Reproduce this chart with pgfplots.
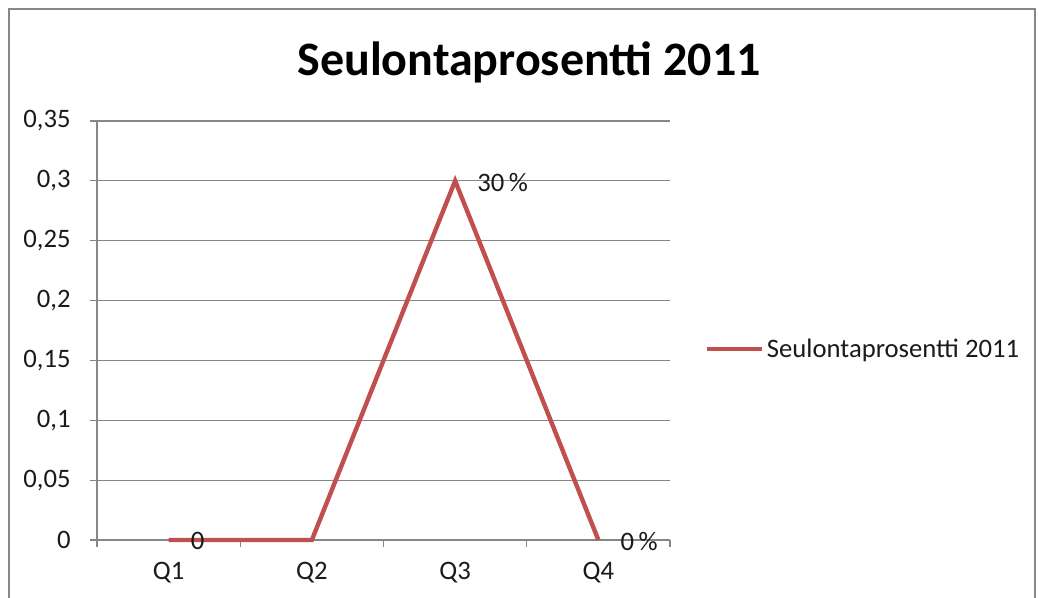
\documentclass[border=0pt]{standalone}
\usepackage{pgfplots}
\pgfplotsset{compat=1.18}
\usepackage{fontspec}
\setmainfont{Carlito}
\definecolor{exred}{HTML}{C0504D}
\definecolor{gridg}{HTML}{868686}
\definecolor{txt}{HTML}{1A1A1A}
\begin{document}
\begin{tikzpicture}[x=0.75pt,y=0.75pt]
\useasboundingbox (0,0) rectangle (1039,598);
\draw[gridg,line width=1.2pt] (9,-10) -- (9,589) -- (1035,589) -- (1035,-10);
\node[font=\fontsize{36}{40}\selectfont\bfseries,text=black] at (529,536) {Seulontaprosentti 2011};
\begin{axis}[
  at={(72.75pt,43.5pt)}, anchor=south west,
  scale only axis, width=429.75pt, height=314.25pt,
  xmin=0.5, xmax=4.5, ymin=0, ymax=0.35,
  axis lines*=left,
  axis line style={gridg, line width=0.8pt},
  xtick={0.5,1.5,2.5,3.5,4.5}, xticklabels={},
  extra x ticks={1,2,3,4}, extra x tick labels={Q1,Q2,Q3,Q4},
  extra x tick style={major tick length=0pt, xticklabel style={yshift=-13pt}},
  ytick={0,0.05,0.1,0.15,0.2,0.25,0.3,0.35},
  yticklabels={0,{0,05},{0,1},{0,15},{0,2},{0,25},{0,3},{0,35}},
  yticklabel style={xshift=-11pt},
  tick align=outside, major tick length=5.25pt,
  tick style={gridg, line width=0.8pt},
  ymajorgrids, grid style={gridg, line width=0.8pt},
  tick label style={font=\fontsize{20}{22}\selectfont, text=txt},
  legend style={at={(1.061,0.456)}, anchor=west, draw=none, fill=none,
    font=\fontsize{20}{22}\selectfont, text=txt, inner sep=0pt},
  legend image code/.code={\draw[exred, line width=3.3pt] (0pt,0pt) -- (41pt,0pt);},
  clip=false,
]
\addplot[exred, line width=3.3pt, line join=miter,
  nodes near coords, point meta=explicit symbolic,
  every node near coord/.append style={anchor=west, inner sep=0pt, xshift=15pt, yshift=-1pt,
    font=\fontsize{20}{22}\selectfont, text=txt}]
  coordinates {(1,0) [0] (2,0) [] (3,0.3) [30\,\%] (4,0) [0\,\%]};
\addlegendentry{Seulontaprosentti 2011}
\end{axis}
\end{tikzpicture}
\end{document}
